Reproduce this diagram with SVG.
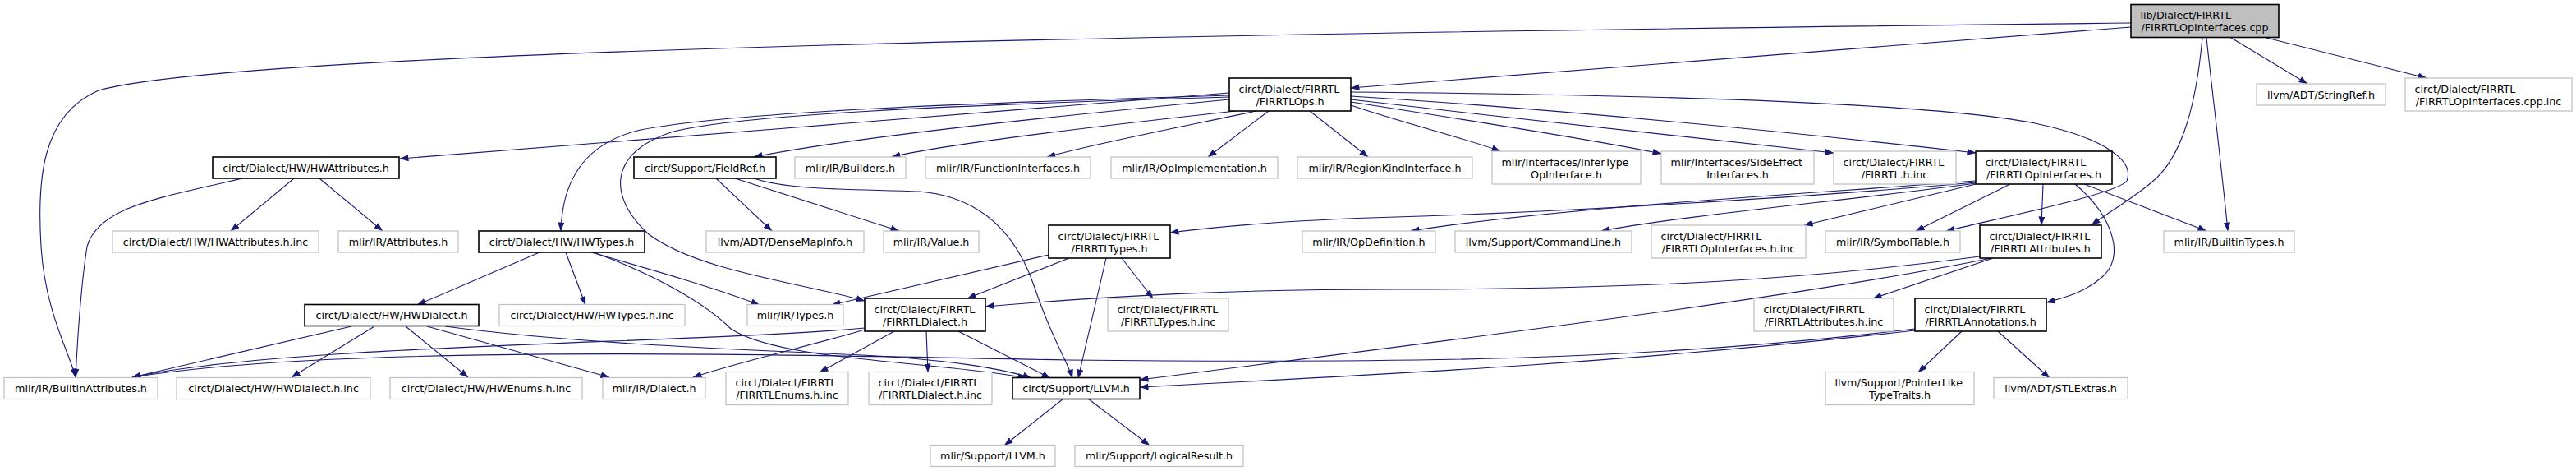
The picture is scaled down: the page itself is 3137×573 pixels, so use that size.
<svg xmlns="http://www.w3.org/2000/svg" width="3137" height="573" viewBox="0 0 3137 573">
<defs>
<marker id="ah" markerUnits="userSpaceOnUse" markerWidth="11" markerHeight="8" viewBox="0 0 11 8" refX="10.5" refY="4" orient="auto">
<path d="M0,0 L11,4 L0,8 z" fill="#191970"/>
</marker>
</defs>
<style>
.g rect{fill:#ffffff;stroke:#bfbfbf;stroke-width:1.2}
.k rect{fill:#ffffff;stroke:#000000;stroke-width:1.6}
.r rect{fill:#bfbfbf;stroke:#000000;stroke-width:1.6}
text{font-family:"DejaVu Sans","Liberation Sans",sans-serif;font-size:12.7px;fill:#000000}
.m{text-anchor:middle}
.s{text-anchor:start}
#edges path{fill:none;stroke:#191970;stroke-width:1.1;marker-end:url(#ah)}
</style>
<rect x="0" y="0" width="3137" height="573" fill="#ffffff"/>
<g id="edges">
<path d="M2595,33 C2350,53 2000,82 1645,107"/>
<path d="M2595,28 C1500,40 300,60 120,110 C50,140 45,220 50,300 C55,380 85,430 92,459"/>
<path d="M2717,46 L2810,102"/>
<path d="M2760,46 L2955,95"/>
<path d="M2682,46 C2675,120 2660,190 2620,222 C2595,243 2568,258 2547,274"/>
<path d="M2687,46 C2695,120 2705,200 2713,281"/>
<path d="M1497,113 C1200,135 800,170 487,193"/>
<path d="M1497,121 C1300,140 1050,165 918,191"/>
<path d="M1505,135 C1350,152 1150,175 1086,191"/>
<path d="M1530,135 C1450,152 1330,175 1275,191"/>
<path d="M1545,135 L1471,191"/>
<path d="M1595,135 L1666,191"/>
<path d="M1645,128 C1710,150 1790,170 1827,184"/>
<path d="M1645,124 C1800,148 1950,172 2023,187"/>
<path d="M1645,121 C1850,145 2100,172 2233,186"/>
<path d="M1645,117 C1900,133 2200,163 2406,186"/>
<path d="M1645,112 C2000,115 2350,125 2478,150 C2560,167 2600,195 2590,220 C2580,235 2450,262 2370,281"/>
<path d="M1497,116 C1200,125 900,135 780,158 C720,172 685,210 683,281"/>
<path d="M1497,118 C1150,128 900,140 820,160 C740,185 740,240 790,285 C850,330 980,345 1053,366"/>
<path d="M872,217 L940,281"/>
<path d="M895,217 L1095,281"/>
<path d="M918,217 C960,232 1050,230 1120,233 C1200,240 1240,290 1260,350 C1280,410 1300,440 1306,460"/>
<path d="M295,217 C200,240 120,250 106,300 C98,350 94,420 92,459"/>
<path d="M358,217 L281,281"/>
<path d="M389,217 L466,281"/>
<path d="M657,307 L508,371"/>
<path d="M689,307 L713,371"/>
<path d="M720,307 C800,330 870,350 925,371"/>
<path d="M723,307 C800,335 860,370 890,400 C950,440 1150,440 1250,460"/>
<path d="M428,397 L161,459"/>
<path d="M456,397 L355,459"/>
<path d="M494,397 L570,459"/>
<path d="M520,397 L742,459"/>
<path d="M542,397 C700,418 900,425 1050,432 C1150,437 1220,448 1256,460"/>
<path d="M1277,310 L1013,371"/>
<path d="M1302,314 L1178,363"/>
<path d="M1347,314 L1313,460"/>
<path d="M1366,314 L1404,363"/>
<path d="M1089,403 L998,453"/>
<path d="M1128,403 L1130,453"/>
<path d="M1167,403 L1279,460"/>
<path d="M1053,401 C990,420 900,440 844,459"/>
<path d="M1053,399 C850,418 350,418 161,459"/>
<path d="M2406,222 C2200,240 1900,258 1700,264 C1560,268 1480,276 1425,283"/>
<path d="M2406,220 C2200,236 1900,252 1718,281"/>
<path d="M2406,223 C2250,244 2050,262 1950,281"/>
<path d="M2406,224 L2197,274"/>
<path d="M2448,224 L2333,281"/>
<path d="M2488,224 L2486,274"/>
<path d="M2538,224 L2687,281"/>
<path d="M2527,224 C2570,260 2590,310 2560,337 C2540,355 2515,362 2492,368"/>
<path d="M2411,312 C2200,340 2000,352 1700,352 C1500,352 1350,360 1200,373"/>
<path d="M2425,314 C2200,360 1800,410 1388,462"/>
<path d="M2427,314 L2281,363"/>
<path d="M2332,402 C2000,440 1700,455 1388,471"/>
<path d="M2332,400 C2000,440 1700,442 1300,438 C900,430 400,420 161,459"/>
<path d="M2389,403 L2336,453"/>
<path d="M2433,403 L2496,460"/>
<path d="M1295,485 L1223,542"/>
<path d="M1325,485 L1400,542"/>
</g>
<g id="n_top" class="r"><rect x="2595" y="5.5" width="180" height="40"/><text class="s" x="2606.5" y="23">lib/Dialect/FIRRTL</text><text class="m" x="2685" y="38">/FIRRTLOpInterfaces.cpp</text></g>
<g id="n_ops" class="k"><rect x="1497" y="95" width="148" height="40"/><text class="s" x="1508.5" y="112.5">circt/Dialect/FIRRTL</text><text class="m" x="1571" y="127.5">/FIRRTLOps.h</text></g>
<g id="n_stringref" class="g"><rect x="2748" y="102" width="157" height="26"/><text class="m" x="2826.5" y="119.5">llvm/ADT/StringRef.h</text></g>
<g id="n_cppinc" class="g"><rect x="2929" y="95" width="203" height="40"/><text class="s" x="2940.5" y="112.5">circt/Dialect/FIRRTL</text><text class="m" x="3030.5" y="127.5">/FIRRTLOpInterfaces.cpp.inc</text></g>
<g id="n_hwattr" class="k"><rect x="259" y="191" width="227" height="26"/><text class="m" x="372.5" y="208.5">circt/Dialect/HW/HWAttributes.h</text></g>
<g id="n_fieldref" class="k"><rect x="772" y="191" width="173" height="26"/><text class="m" x="858.5" y="208.5">circt/Support/FieldRef.h</text></g>
<g id="n_builders" class="g"><rect x="968" y="191" width="135" height="26"/><text class="m" x="1035.5" y="208.5">mlir/IR/Builders.h</text></g>
<g id="n_funcif" class="g"><rect x="1127" y="191" width="201" height="26"/><text class="m" x="1227.5" y="208.5">mlir/IR/FunctionInterfaces.h</text></g>
<g id="n_opimpl" class="g"><rect x="1353" y="191" width="203" height="26"/><text class="m" x="1454.5" y="208.5">mlir/IR/OpImplementation.h</text></g>
<g id="n_regionkind" class="g"><rect x="1580" y="191" width="213" height="26"/><text class="m" x="1686.5" y="208.5">mlir/IR/RegionKindInterface.h</text></g>
<g id="n_infertype" class="g"><rect x="1817" y="184" width="181" height="40"/><text class="s" x="1828.5" y="201.5">mlir/Interfaces/InferType</text><text class="m" x="1907.5" y="216.5">OpInterface.h</text></g>
<g id="n_sideeffect" class="g"><rect x="2023" y="184" width="186" height="40"/><text class="s" x="2034.5" y="201.5">mlir/Interfaces/SideEffect</text><text class="m" x="2116" y="216.5">Interfaces.h</text></g>
<g id="n_firrtlinc" class="g"><rect x="2233" y="184" width="149" height="40"/><text class="s" x="2244.5" y="201.5">circt/Dialect/FIRRTL</text><text class="m" x="2307.5" y="216.5">/FIRRTL.h.inc</text></g>
<g id="n_opif" class="k"><rect x="2406" y="184" width="166" height="40"/><text class="s" x="2417.5" y="201.5">circt/Dialect/FIRRTL</text><text class="m" x="2489" y="216.5">/FIRRTLOpInterfaces.h</text></g>
<g id="n_hwattrinc" class="g"><rect x="137" y="281" width="251" height="26"/><text class="m" x="262.5" y="298.5">circt/Dialect/HW/HWAttributes.h.inc</text></g>
<g id="n_attributes" class="g"><rect x="412" y="281" width="146" height="26"/><text class="m" x="485" y="298.5">mlir/IR/Attributes.h</text></g>
<g id="n_hwtypes" class="k"><rect x="583" y="281" width="202" height="26"/><text class="m" x="684" y="298.5">circt/Dialect/HW/HWTypes.h</text></g>
<g id="n_densemap" class="g"><rect x="860" y="281" width="192" height="26"/><text class="m" x="956" y="298.5">llvm/ADT/DenseMapInfo.h</text></g>
<g id="n_value" class="g"><rect x="1076" y="281" width="116" height="26"/><text class="m" x="1134" y="298.5">mlir/IR/Value.h</text></g>
<g id="n_ftypes" class="k"><rect x="1277" y="274" width="148" height="40"/><text class="s" x="1288.5" y="291.5">circt/Dialect/FIRRTL</text><text class="m" x="1351" y="306.5">/FIRRTLTypes.h</text></g>
<g id="n_opdef" class="g"><rect x="1586" y="281" width="162" height="26"/><text class="m" x="1667" y="298.5">mlir/IR/OpDefinition.h</text></g>
<g id="n_cmdline" class="g"><rect x="1772" y="281" width="215" height="26"/><text class="m" x="1879.5" y="298.5">llvm/Support/CommandLine.h</text></g>
<g id="n_opifinc" class="g"><rect x="2011" y="274" width="188" height="40"/><text class="s" x="2022.5" y="291.5">circt/Dialect/FIRRTL</text><text class="m" x="2105" y="306.5">/FIRRTLOpInterfaces.h.inc</text></g>
<g id="n_symtab" class="g"><rect x="2223" y="281" width="164" height="26"/><text class="m" x="2305" y="298.5">mlir/IR/SymbolTable.h</text></g>
<g id="n_fattr" class="k"><rect x="2411" y="274" width="148" height="40"/><text class="s" x="2422.5" y="291.5">circt/Dialect/FIRRTL</text><text class="m" x="2485" y="306.5">/FIRRTLAttributes.h</text></g>
<g id="n_builtintypes" class="g"><rect x="2635" y="281" width="159" height="26"/><text class="m" x="2714.5" y="298.5">mlir/IR/BuiltinTypes.h</text></g>
<g id="n_hwdialect" class="k"><rect x="371" y="370.5" width="212" height="26"/><text class="m" x="477" y="388">circt/Dialect/HW/HWDialect.h</text></g>
<g id="n_hwtypesinc" class="g"><rect x="608" y="370.5" width="226" height="26"/><text class="m" x="721" y="388">circt/Dialect/HW/HWTypes.h.inc</text></g>
<g id="n_types" class="g"><rect x="910" y="370.5" width="117" height="26"/><text class="m" x="968.5" y="388">mlir/IR/Types.h</text></g>
<g id="n_fdialect" class="k"><rect x="1053" y="363" width="147" height="40"/><text class="s" x="1064.5" y="380.5">circt/Dialect/FIRRTL</text><text class="m" x="1126.5" y="395.5">/FIRRTLDialect.h</text></g>
<g id="n_ftypesinc" class="g"><rect x="1349" y="363" width="147" height="40"/><text class="s" x="1360.5" y="380.5">circt/Dialect/FIRRTL</text><text class="m" x="1422.5" y="395.5">/FIRRTLTypes.h.inc</text></g>
<g id="n_fattrinc" class="g"><rect x="2136" y="363" width="170" height="40"/><text class="s" x="2147.5" y="380.5">circt/Dialect/FIRRTL</text><text class="m" x="2221" y="395.5">/FIRRTLAttributes.h.inc</text></g>
<g id="n_fanno" class="k"><rect x="2332" y="363" width="160" height="40"/><text class="s" x="2343.5" y="380.5">circt/Dialect/FIRRTL</text><text class="m" x="2412" y="395.5">/FIRRTLAnnotations.h</text></g>
<g id="n_builtinattr" class="g"><rect x="5" y="459.5" width="187" height="26"/><text class="m" x="98.5" y="477">mlir/IR/BuiltinAttributes.h</text></g>
<g id="n_hwdialectinc" class="g"><rect x="215" y="459.5" width="236" height="26"/><text class="m" x="333" y="477">circt/Dialect/HW/HWDialect.h.inc</text></g>
<g id="n_hwenums" class="g"><rect x="475" y="459.5" width="234" height="26"/><text class="m" x="592" y="477">circt/Dialect/HW/HWEnums.h.inc</text></g>
<g id="n_dialect" class="g"><rect x="734" y="459.5" width="125" height="26"/><text class="m" x="796.5" y="477">mlir/IR/Dialect.h</text></g>
<g id="n_fenums" class="g"><rect x="884" y="452.5" width="149" height="40"/><text class="s" x="895.5" y="470">circt/Dialect/FIRRTL</text><text class="m" x="958.5" y="485">/FIRRTLEnums.h.inc</text></g>
<g id="n_fdialectinc" class="g"><rect x="1058" y="452.5" width="150" height="40"/><text class="s" x="1069.5" y="470">circt/Dialect/FIRRTL</text><text class="m" x="1133" y="485">/FIRRTLDialect.h.inc</text></g>
<g id="n_llvm" class="k"><rect x="1233" y="459.5" width="155" height="26"/><text class="m" x="1310.5" y="477">circt/Support/LLVM.h</text></g>
<g id="n_pointerlike" class="g"><rect x="2223" y="452.5" width="181" height="40"/><text class="s" x="2234.5" y="470">llvm/Support/PointerLike</text><text class="m" x="2313.5" y="485">TypeTraits.h</text></g>
<g id="n_stlextras" class="g"><rect x="2428" y="459.5" width="163" height="26"/><text class="m" x="2509.5" y="477">llvm/ADT/STLExtras.h</text></g>
<g id="n_mlirllvm" class="g"><rect x="1133" y="541.5" width="152" height="26"/><text class="m" x="1209" y="559">mlir/Support/LLVM.h</text></g>
<g id="n_logical" class="g"><rect x="1309" y="541.5" width="205" height="26"/><text class="m" x="1411.5" y="559">mlir/Support/LogicalResult.h</text></g>
</svg>
